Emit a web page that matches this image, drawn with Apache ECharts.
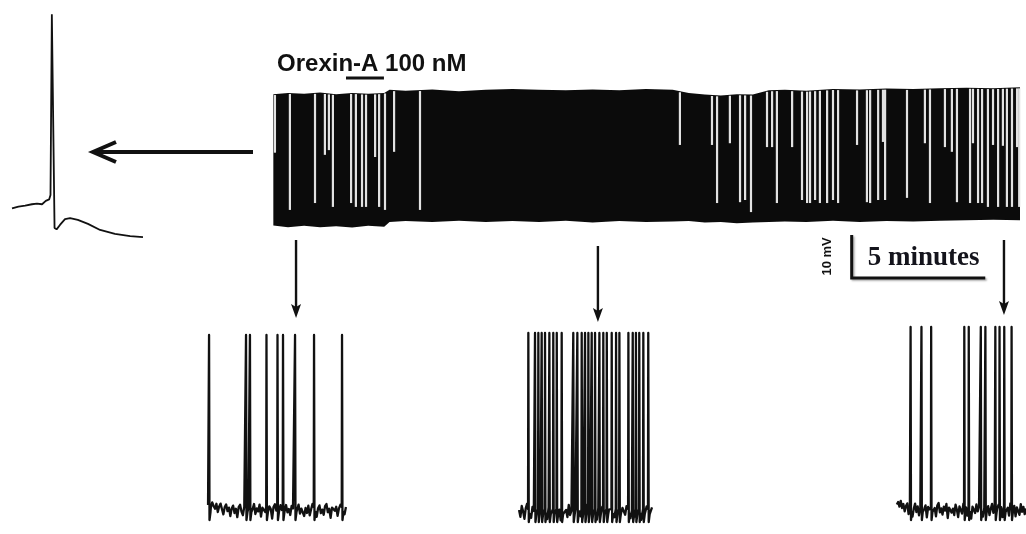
<!DOCTYPE html>
<html>
<head>
<meta charset="utf-8">
<script src="https://cdn.jsdelivr.net/npm/echarts@6/dist/echarts.min.js"></script>
<style>
  html, body { margin: 0; padding: 0; background: #ffffff; }
  #chart { width: 1026px; height: 534px; }
</style>
</head>
<body>
<div id="chart"></div>
<script>
// ---- Single action potential (time in ms, membrane potential in mV) ----
const apTime = [0.6, 2.5, 4.5, 6.5, 8.0, 9.5, 10.6, 11.6, 12.0, 12.4, 13.2, 13.8, 14.8, 16.3, 17.8, 20.1, 23.1, 26.7, 31.1, 35.6, 39.4];
const apVolt = [-59.9, -59.0, -58.6, -57.9, -57.6, -57.9, -56.3, -55.6, -53.5, 33.0, -69.3, -69.9, -67.8, -65.0, -64.5, -65.4, -67.3, -70.2, -72.1, -73.1, -73.6];

// ---- Long recording: band envelope (time in min, mV) ----
const envTime   = [0.05, 0.6, 1.2, 1.8, 2.4, 3.0, 3.6, 4.2, 4.4, 5.0, 6.0, 7.0, 8.0, 9.0, 10.0, 11.0, 12.0, 13.0, 14.0, 15.0, 15.6, 16.2, 16.8, 17.4, 18.0, 18.6, 19.2, 20.0, 21.0, 22.0, 23.0, 24.0, 25.0, 26.0, 27.0, 28.0];
const envTop    = [-30.9, -30.6, -30.8, -30.5, -30.9, -30.6, -30.8, -30.6, -29.9, -30.1, -29.8, -30.2, -29.9, -29.7, -29.9, -30.0, -29.8, -30.0, -29.7, -29.9, -30.6, -31.0, -31.2, -30.9, -31.0, -30.0, -29.9, -30.1, -29.7, -29.8, -29.6, -29.7, -29.5, -29.4, -29.5, -29.3];
const envBottom = [-61.4, -61.8, -61.5, -61.8, -61.6, -61.9, -61.5, -61.7, -60.6, -60.4, -60.6, -60.3, -60.6, -60.4, -60.6, -60.3, -60.7, -60.4, -60.6, -60.5, -60.4, -60.7, -60.6, -60.9, -60.7, -60.6, -60.5, -60.6, -60.3, -60.6, -60.4, -60.5, -60.3, -60.2, -60.1, -60.2];

// Silent intervals (pauses between spikes): time (min) and the potential where the pause ends (mV)
const gapTime = [0.11, 0.67, 1.61, 1.98, 2.13, 2.28, 2.96, 3.14, 3.37, 3.52, 3.86, 4.01, 4.23, 4.57, 5.54,
  15.27, 16.47, 16.66, 17.14, 17.52, 17.71, 17.93, 18.53, 18.72, 18.90, 19.47, 19.84, 20.03, 20.14, 20.33,
  20.51, 20.78, 21.00, 21.19, 21.90, 22.27, 22.39, 22.69, 22.87, 22.95, 23.77, 24.44, 24.63, 25.19, 25.45,
  25.64, 26.13, 26.24, 26.43, 26.58, 26.80, 26.99, 27.18, 27.36, 27.51, 27.70, 27.89, 27.97];
const gapEnd = [-44.5, -57.8, -56.2, -45.0, -43.9, -57.1, -56.2, -57.1, -57.1, -57.1, -45.5, -57.1, -57.8, -44.3, -57.8,
  -42.7, -42.7, -56.2, -42.3, -56.0, -55.5, -58.3, -43.2, -43.2, -56.2, -43.2, -55.5, -56.2, -56.2, -55.5,
  -56.2, -56.2, -55.5, -56.2, -42.7, -56.0, -56.2, -55.5, -42.0, -55.5, -55.0, -42.3, -56.2, -43.2, -44.3,
  -56.0, -56.2, -42.3, -56.2, -56.2, -57.1, -42.7, -57.1, -42.9, -57.1, -57.1, -43.2, -57.1];

// Orexin-A application (min)
const drugStart = 2.77;
const drugEnd = 4.19;
const drugLabel = 'Orexin-A 100 nM';

// Times of the expanded excerpts (min)
const sampleTimes = [0.9, 12.2, 27.4];

// ---- Expanded excerpts: spike times (s), peaks and resting level (mV) ----
const spikes1 = [0.28, 2.83, 3.10, 4.24, 5.00, 5.38, 6.21, 7.52, 9.45];
const spikes2 = [0.92, 1.38, 1.61, 1.84, 2.07, 2.37, 2.64, 2.88, 3.22, 4.02, 4.30, 4.60, 4.83, 5.06, 5.29, 5.52, 5.82, 6.09, 6.33, 6.67, 6.97, 7.20, 7.82, 8.12, 8.34, 8.57, 8.85, 9.19];
const spikes3 = [1.19, 2.02, 2.76, 5.29, 5.63, 6.55, 6.90, 7.66, 7.98, 8.34, 8.90];
const excerptPeak = [25, 26, 29];
const excerptRest = [-62.5, -63.5, -62.5];
const excerptSpan = [[0.21, 9.72], [0.28, 9.45], [0.14, 10.0]];

// Baseline fluctuations (mV around resting level)
const noise1 = [2.5, 3.4, 1.2, 3.8, 2.0, 0.6, 3.1, -1.0, 1.8, 3.2, 0.4, -2.2, 1.5, 2.8, -0.6, 1.2, -3.0, 0.8, 2.2, -1.5, 0.6, -3.6, 1.4, 2.6, -0.8, -2.6, 1.6, 0.3, -4.0, 1.0, 2.4, -1.4, 0.5, 3.0, -2.0, 0.8, -0.7, 2.7, -3.3, 1.2, 2.0, -1.0, 0.2, -2.8, 1.8, 0.6, -4.3, 1.5, 2.9, -0.3, 1.0, -2.2, 2.4, 0.0, -3.5, 1.3, 2.5, -1.2, 0.5, -2.5, 2.0, 0.8, -3.8, 1.5, -0.5, 2.7, -1.8, 0.7, 1.7, -3.0, 1.0, -1.5, 2.2, -2.7, 0.4, 3.1, -0.9, 1.4, -3.4, 0.9, 2.3, -1.6, 0.2, -2.4, 1.9, 3.0, -1.1, 0.6, -3.9, 1.2, 2.1, -0.4, 1.6, -2.9, 0.8, 2.6, -1.3, 0.3, -2.1, 1.5];
const noise2 = [1.0, -2.4, 3.0, 0.3, -3.4, 2.0, 4.2, -0.8, 1.5, -2.9, 2.5, 0.5, -4.0, 1.8, 3.3, -1.3, 0.7, -2.0, 3.2, -0.5, 1.3, -3.5, 2.3, 0.8, -1.7, 3.8, -1.0, 0.2, -3.0, 2.7, 1.2, -4.2, 1.7, 3.2, -0.7, 1.0, -2.5, 3.5, -1.5, 0.5, 2.2, -3.7, 1.3, 2.8, -1.2, 0.3, -2.2, 2.5, 0.7, -3.3, 1.8, 3.7, -0.8, 1.5, -2.7, 3.0, -0.3, 0.8, -3.8, 2.0, 1.0, -1.8, 2.7, -1.3, 0.5, 3.2, -3.2, 1.2, 1.7, -0.7, 2.4, -2.6, 0.9, 3.4, -1.9, 0.4, -3.6, 2.1, 1.1, -1.4, 2.9, -0.6, 1.6, -3.1, 0.8, 2.6, -2.3, 0.2, 3.1, -1.7, 1.4, -3.9, 2.2, 0.6, -1.1, 2.8, -2.0, 1.0, -0.4, 2.3];
const noise3 = [2.7, 4.0, 1.7, 4.6, 1.0, 3.0, -0.7, 2.0, 3.3, -2.0, 1.3, 2.5, -3.3, 0.7, 3.2, -1.0, 1.8, -2.7, 1.2, 3.7, -1.5, 0.5, 2.3, -3.7, 1.5, 0.3, -1.7, 2.8, -0.5, 1.0, -3.2, 2.2, 3.5, -1.2, 0.8, -2.3, 1.7, -0.3, 3.0, -4.0, 1.2, 2.0, -1.3, 0.7, -2.5, 2.7, 0.2, -3.5, 1.8, 1.0, -1.8, 3.2, -0.8, 1.3, -2.8, 2.3, 0.5, -4.3, 1.7, 0.8, -1.5, 2.8, -0.7, 1.5, -2.2, 2.0, -3.3, 1.0, 2.5, -1.0, 1.9, -2.6, 0.6, 3.1, -1.4, 2.2, -3.0, 0.9, 2.7, -0.6, 1.4, -3.6, 0.4, 2.4, -1.9, 1.1, -2.8, 3.3, 0.2, -1.6, 2.1, -3.2, 1.3, 0.7, -2.4, 2.9, -0.9, 1.6, -2.1, 0.8];

// Builds an excerpt trace from spike times and baseline fluctuations
function buildTrace(spikes, noise, peak, rest, span) {
  const pts = [];
  const dt = (span[1] - span[0]) / (noise.length - 1);
  noise.forEach((n, i) => {
    const t = span[0] + i * dt;
    const nearSpike = spikes.some(s => t > s - 0.05 && t < s + 0.12);
    if (!nearSpike) pts.push([t, rest + n]);
  });
  spikes.forEach(s => {
    pts.push([s - 0.02, rest + 1.5]);
    pts.push([s, peak]);
    pts.push([s + 0.03, rest - 5]);
    pts.push([s + 0.1, rest - 1]);
  });
  pts.sort((a, b) => a[0] - b[0]);
  return pts;
}

// Band top at a given time (linear between envelope samples)
function topAt(t) {
  for (let i = 1; i < envTime.length; i++) {
    if (t <= envTime[i]) {
      const f = (t - envTime[i - 1]) / (envTime[i] - envTime[i - 1]);
      return envTop[i - 1] + f * (envTop[i] - envTop[i - 1]);
    }
  }
  return envTop[envTop.length - 1];
}

const chart = echarts.init(document.getElementById('chart'), null, { renderer: 'canvas' });

const hiddenAxis = (min, max, gridIndex) => ({
  type: 'value', min, max, gridIndex, show: false, splitLine: { show: false }
});

const traceStyle = { color: '#111111', width: 2.3, join: 'round' };

const option = {
  backgroundColor: '#ffffff',
  animation: false,
  grid: [
    { left: 10, top: 10, width: 135, height: 230 },     // single spike
    { left: 272, top: 86, width: 748, height: 142 },     // long recording
    { left: 205, top: 325, width: 145, height: 200 },    // excerpt 1
    { left: 515, top: 325, width: 145, height: 200 },    // excerpt 2
    { left: 895, top: 325, width: 145, height: 200 }     // excerpt 3
  ],
  xAxis: [
    hiddenAxis(0, 40, 0),
    hiddenAxis(0, 28, 1),
    hiddenAxis(0, 10, 2),
    hiddenAxis(0, 10, 3),
    hiddenAxis(0, 10, 4)
  ],
  yAxis: [
    hiddenAxis(-75, 35, 0),
    hiddenAxis(-62, -29, 1),
    hiddenAxis(-70, 30, 2),
    hiddenAxis(-70, 30, 3),
    hiddenAxis(-70, 30, 4)
  ],
  series: [
    {
      name: 'action potential', type: 'line', xAxisIndex: 0, yAxisIndex: 0,
      data: apTime.map((t, i) => [t, apVolt[i]]),
      showSymbol: false, silent: true,
      lineStyle: { color: '#111111', width: 1.8 }
    },
    {
      name: 'recording', type: 'custom', xAxisIndex: 1, yAxisIndex: 1, silent: true,
      data: [[envTime[0], envTop[0]]],
      renderItem: (params, api) => {
        const pts = [];
        for (let i = 0; i < envTime.length; i++) pts.push(api.coord([envTime[i], envTop[i]]));
        for (let i = envTime.length - 1; i >= 0; i--) pts.push(api.coord([envTime[i], envBottom[i]]));
        return { type: 'polygon', shape: { points: pts }, style: { fill: '#0b0b0b' } };
      }
    },
    {
      name: 'pauses', type: 'custom', xAxisIndex: 1, yAxisIndex: 1, silent: true,
      data: gapTime.map((t, i) => [t, gapEnd[i]]),
      renderItem: (params, api) => {
        const t = api.value(0);
        const a = api.coord([t, topAt(t)]);
        const b = api.coord([t, api.value(1)]);
        return {
          type: 'line',
          shape: { x1: a[0], y1: a[1] + 1, x2: b[0], y2: b[1] },
          style: { stroke: '#e2e2e2', lineWidth: 2.2 }
        };
      }
    },
    {
      name: 'excerpt 1', type: 'line', xAxisIndex: 2, yAxisIndex: 2, silent: true,
      data: buildTrace(spikes1, noise1, excerptPeak[0], excerptRest[0], excerptSpan[0]),
      showSymbol: false, lineStyle: traceStyle
    },
    {
      name: 'excerpt 2', type: 'line', xAxisIndex: 3, yAxisIndex: 3, silent: true,
      data: buildTrace(spikes2, noise2, excerptPeak[1], excerptRest[1], excerptSpan[1]),
      showSymbol: false, lineStyle: traceStyle
    },
    {
      name: 'excerpt 3', type: 'line', xAxisIndex: 4, yAxisIndex: 4, silent: true,
      data: buildTrace(spikes3, noise3, excerptPeak[2], excerptRest[2], excerptSpan[2]),
      showSymbol: false, lineStyle: traceStyle
    }
  ]
};

chart.setOption(option);

// Annotations placed through the recording's own scale
const toPx = (t, v) => chart.convertToPixel({ gridIndex: 1 }, [t, v]);
const graphics = [];

// drug bar and label
const d0 = toPx(drugStart, -29)[0];
const d1 = toPx(drugEnd, -29)[0];
graphics.push({
  type: 'line', shape: { x1: d0, y1: 78, x2: d1, y2: 78 },
  style: { stroke: '#111', lineWidth: 3 }
});
graphics.push({
  type: 'text', x: toPx(0.19, -29)[0], y: 64,
  style: {
    text: drugLabel, fill: '#111',
    font: 'bold 24px "Liberation Sans", Arial, sans-serif',
    align: 'left', verticalAlign: 'middle'
  }
});

// arrow from the recording towards the single spike
const shaftY = 152;
graphics.push({
  type: 'line', shape: { x1: toPx(0, -45)[0] - 19, y1: shaftY, x2: 96, y2: shaftY },
  style: { stroke: '#111', lineWidth: 4 }
});
graphics.push({
  type: 'polyline', shape: { points: [[116, shaftY - 10], [93, shaftY], [116, shaftY + 10]] },
  style: { stroke: '#111', lineWidth: 4, fill: null, lineJoin: 'miter' }
});

// arrows to the expanded excerpts
const arrowTop = [240, 246, 240];
const arrowTip = [318, 322, 315];
sampleTimes.forEach((t, i) => {
  const x = toPx(t, -45)[0];
  graphics.push({
    type: 'line', shape: { x1: x, y1: arrowTop[i], x2: x, y2: arrowTip[i] - 10 },
    style: { stroke: '#111', lineWidth: 2.4 }
  });
  graphics.push({
    type: 'polygon',
    shape: { points: [[x - 5, arrowTip[i] - 14], [x, arrowTip[i]], [x + 5, arrowTip[i] - 14], [x, arrowTip[i] - 11]] },
    style: { fill: '#111' }
  });
});

// scale bar: 10 mV by 5 minutes
const corner = toPx(21.7, -73.6);
const topEnd = toPx(21.7, -63.6);
const rightEnd = toPx(26.7, -73.6);
graphics.push({
  type: 'polyline',
  shape: { points: [[corner[0], topEnd[1]], [corner[0], corner[1]], [rightEnd[0], corner[1]]] },
  style: {
    stroke: '#111', lineWidth: 3, fill: null, lineJoin: 'miter',
    shadowColor: 'rgba(0,0,0,0.3)', shadowBlur: 2, shadowOffsetX: 1.5, shadowOffsetY: 1.5
  }
});
graphics.push({
  type: 'text', x: corner[0] + 16, y: topEnd[1] + 23,
  style: {
    text: '5 minutes', fill: '#14141c',
    font: 'bold 27px "Liberation Serif", "Times New Roman", serif',
    align: 'left', verticalAlign: 'middle'
  }
});
graphics.push({
  type: 'text', x: corner[0] - 24, y: (topEnd[1] + corner[1]) / 2, rotation: Math.PI / 2,
  style: {
    text: '10 mV', fill: '#111',
    font: 'bold 13px "Liberation Sans", Arial, sans-serif',
    align: 'center', verticalAlign: 'middle'
  }
});

chart.setOption({ graphic: graphics });
</script>
</body>
</html>
